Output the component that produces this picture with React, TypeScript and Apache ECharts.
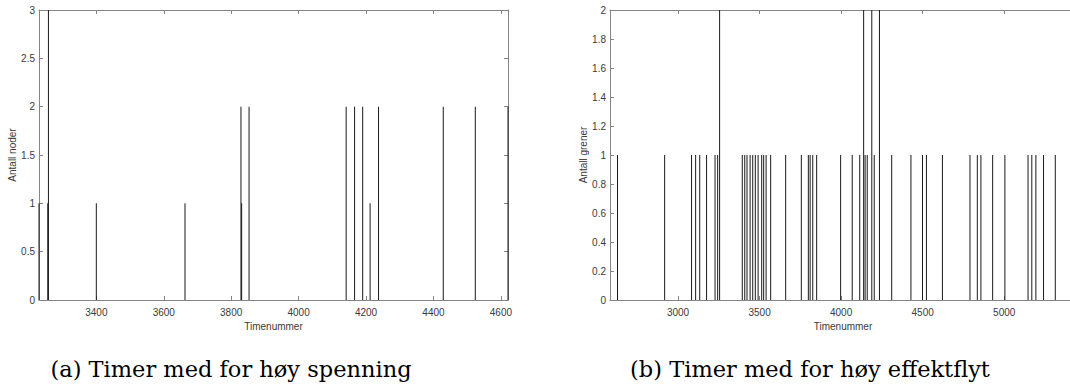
import React, { useEffect, useRef } from "react";
import * as echarts from "echarts";

// (a) hours with too high voltage
const hoursA = [3230, 3256, 3258, 3400, 3663, 3829, 3831, 3853, 4141, 4166, 4190, 4212, 4237, 4429, 4524, 4621];
const nodesA = [1, 1, 3, 1, 1, 2, 1, 2, 2, 2, 2, 1, 2, 2, 2, 2];
const ticksA = [3400, 3600, 3800, 4000, 4200, 4400, 4600];

// (b) hours with too high power flow
const hoursB = [
  2629, 2918, 3083, 3108, 3133, 3175, 3227, 3243, 3255, 3394, 3409, 3423, 3442, 3458, 3474, 3491,
  3513, 3525, 3540, 3568, 3660, 3756, 3799, 3810, 3826, 3850, 3997, 4068, 4114, 4138, 4147, 4160,
  4188, 4203, 4235, 4310, 4428, 4499, 4523, 4621, 4790, 4835, 4857, 4929, 5004, 5146, 5169, 5194,
  5241, 5313,
];
const branchesB = [
  1, 1, 1, 1, 1, 1, 1, 1, 2, 1, 1, 1, 1, 1, 1, 1,
  1, 1, 1, 1, 1, 1, 1, 1, 1, 1, 1, 1, 1, 2, 1, 1,
  2, 1, 2, 1, 1, 1, 1, 1, 1, 1, 1, 1, 1, 1, 1, 1,
  1, 1,
];
const ticksB = [3000, 3500, 4000, 4500, 5000];

const captionA = "(a) Timer med for høy spenning";
const captionB = "(b) Timer med for høy effektflyt";

const AXIS = "#858585";
const TEXT = "#3a3a3a";
const FONT = "Liberation Sans";
const plain = (v: number) => String(Math.round(v * 100) / 100);

function xAxes(gridIndex: number, min: number, max: number, ticks: number[]) {
  return [
    {
      type: "value", gridIndex, min, max, position: "bottom",
      name: "Timenummer", nameLocation: "middle", nameGap: 18,
      nameTextStyle: { color: TEXT, fontSize: 10, fontFamily: FONT },
      axisLine: { show: true, onZero: false, lineStyle: { color: AXIS, width: 1 } },
      axisTick: { show: true, inside: true, length: 4, customValues: ticks, lineStyle: { color: AXIS } },
      axisLabel: { customValues: ticks, formatter: plain, color: TEXT, fontSize: 10, fontFamily: FONT, margin: 7 },
      splitLine: { show: false },
    },
    {
      type: "value", gridIndex, min, max, position: "top",
      axisLine: { show: true, onZero: false, lineStyle: { color: AXIS, width: 1 } },
      axisTick: { show: true, inside: true, length: 4, customValues: ticks, lineStyle: { color: AXIS } },
      axisLabel: { show: false },
      splitLine: { show: false },
    },
  ];
}

function yAxes(gridIndex: number, max: number, interval: number, name: string) {
  return [
    {
      type: "value", gridIndex, min: 0, max, interval, position: "left",
      name, nameLocation: "middle", nameGap: 20,
      nameTextStyle: { color: TEXT, fontSize: 10, fontFamily: FONT },
      axisLine: { show: true, onZero: false, lineStyle: { color: AXIS, width: 1 } },
      axisTick: { show: true, inside: true, length: 4, lineStyle: { color: AXIS } },
      axisLabel: { formatter: plain, color: TEXT, fontSize: 10, fontFamily: FONT, margin: 4 },
      splitLine: { show: false },
    },
    {
      type: "value", gridIndex, min: 0, max, interval, position: "right",
      axisLine: { show: true, onZero: false, lineStyle: { color: AXIS, width: 1 } },
      axisTick: { show: true, inside: true, length: 4, lineStyle: { color: AXIS } },
      axisLabel: { show: false },
      splitLine: { show: false },
    },
  ];
}

export default function App() {
  const ref = useRef<HTMLDivElement>(null);
  useEffect(() => {
    if (!ref.current) return;
    const chart = echarts.init(ref.current, null, { renderer: "svg" });
    const dataA = hoursA.map((h, i) => [h, nodesA[i]]);
    const dataB = hoursB.map((h, i) => [h, branchesB[i]]);
    chart.setOption({
      animation: false,
      backgroundColor: "#ffffff",
      grid: [
        { left: 39, top: 10, width: 469, height: 290, containLabel: false },
        { left: 610, top: 10, width: 466, height: 290, containLabel: false },
      ],
      xAxis: [...xAxes(0, 3230, 4621, ticksA), ...xAxes(1, 2583, 5440, ticksB)],
      yAxis: [...yAxes(0, 3, 0.5, "Antall noder"), ...yAxes(1, 2, 0.2, "Antall grener")],
      series: [
        {
          type: "bar", xAxisIndex: 0, yAxisIndex: 0, data: dataA,
          barWidth: 1, itemStyle: { color: "#1a1a1a" }, barGap: "-100%",
        },
        {
          type: "bar", xAxisIndex: 2, yAxisIndex: 2, data: dataB,
          barWidth: 1, itemStyle: { color: "#1a1a1a" }, barGap: "-100%",
        },
      ],
      graphic: [
        {
          type: "text", x: 231, y: 369,
          style: {
            text: captionA, fontFamily: "DejaVu Serif", fontSize: 22.5, fill: "#000",
            textAlign: "center", textVerticalAlign: "middle",
          },
        },
        {
          type: "text", x: 810, y: 369,
          style: {
            text: captionB, fontFamily: "DejaVu Serif", fontSize: 22.5, fill: "#000",
            textAlign: "center", textVerticalAlign: "middle",
          },
        },
      ],
    });
    return () => chart.dispose();
  }, []);
  return (
    <div style={{ position: "absolute", left: 0, top: 0, width: 1070, height: 390, overflow: "hidden" }}>
      <div ref={ref} style={{ width: 1090, height: 390 }} />
    </div>
  );
}
